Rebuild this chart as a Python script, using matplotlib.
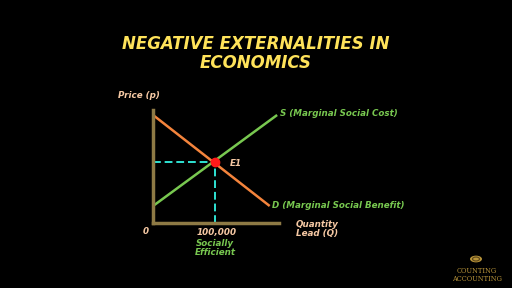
import matplotlib
matplotlib.use("Agg")
import matplotlib.pyplot as plt
from matplotlib.patches import Circle

# data (price in arbitrary units)
demand_q = [0, 188000]
demand_p = [108, 17]
supply_q = [0, 200000]
supply_p = [17, 108]
eq_q = 100000
eq_p = 61
x_tick_label = "100,000"

bg = "black"
peach = "#F6C9A4"
green = "#78C850"
orange = "#F4843C"
cyan = "#2FE3D3"
gold = "#B8943A"
axis_col = "#8E7A45"

fig = plt.figure(figsize=(5.12, 2.88), dpi=100, facecolor=bg)

# title
fig.text(256 / 512, 1 - 44 / 288, "NEGATIVE EXTERNALITIES IN", color="#FFE35A",
         fontsize=12, fontweight="bold", style="italic", ha="center", va="center")
fig.text(256 / 512, 1 - 63 / 288, "ECONOMICS", color="#FFE35A",
         fontsize=12, fontweight="bold", style="italic", ha="center", va="center")

ax = fig.add_axes([153 / 512, 1 - 223 / 288, 126 / 512, 113 / 288])
ax.set_facecolor(bg)
ax.set_xlim(0, 203000)
ax.set_ylim(0, 113)
for s in ["top", "right"]:
    ax.spines[s].set_visible(False)
for s in ["left", "bottom"]:
    ax.spines[s].set_color(axis_col)
    ax.spines[s].set_linewidth(2.5)
ax.set_xticks([])
ax.set_yticks([])

ax.plot(demand_q, demand_p, color=orange, lw=1.8, solid_capstyle="butt")
ax.plot(supply_q, supply_p, color=green, lw=1.8, solid_capstyle="butt")
ax.plot([0, eq_q], [eq_p, eq_p], color=cyan, lw=1.4, ls=(0, (4, 2)))
ax.plot([eq_q, eq_q], [0, eq_p], color=cyan, lw=1.4, ls=(0, (4, 2)))
ax.plot([eq_q], [eq_p], "o", color="#FF1A1A", ms=6, zorder=5)

tkw = dict(fontsize=6.3, fontweight="bold", style="italic", clip_on=False)
ax.text(eq_q + 24000, eq_p - 1, "E1", color=peach, ha="left", va="center", **tkw)
ax.text(supply_q[1] + 5000, supply_p[1] + 2, "S (Marginal Social Cost)", color=green,
        ha="left", va="center", **tkw)
ax.text(demand_q[1] + 4000, demand_p[1], "D (Marginal Social Benefit)", color=green,
        ha="left", va="center", **tkw)
ax.text(-12000, -8, "0", color=peach, ha="center", va="center", **tkw)
ax.text(eq_q + 3000, -9, x_tick_label, color=peach, ha="center", va="center", **tkw)
ax.text(eq_q, -25, "Socially\nEfficient", color=green, ha="center", va="center",
        linespacing=0.95, **tkw)
ax.text(265000, -6, "Quantity\nLead (Q)", color=peach, ha="center", va="center",
        linespacing=0.95, **tkw)
ax.text(-22000, 127, "Price (p)", color=peach, ha="center", va="center", **tkw)

# logo
fig.patches.append(Circle((476 / 512, 1 - 259 / 288), 6 / 512, transform=fig.transFigure,
                          facecolor=gold, edgecolor="none"))
fig.patches.append(Circle((476 / 512, 1 - 259 / 288), 3.5 / 512, transform=fig.transFigure,
                          facecolor="none", edgecolor="#5A4418", lw=0.8))
fig.text(477 / 512, 1 - 271 / 288, "COUNTING", color=gold, fontsize=4.8,
         family="DejaVu Serif", ha="center", va="center")
fig.text(477 / 512, 1 - 279 / 288, "ACCOUNTING", color=gold, fontsize=4.8,
         family="DejaVu Serif", ha="center", va="center")

fig.savefig("out.png", dpi=100, facecolor=bg)
